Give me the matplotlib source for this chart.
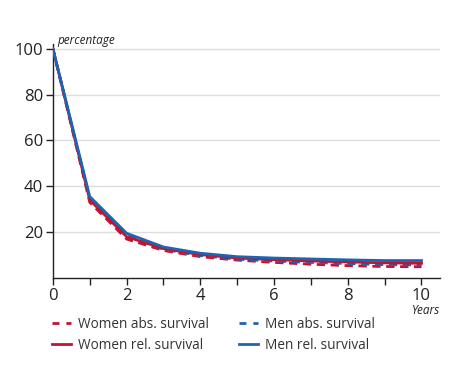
import matplotlib
matplotlib.use("Agg")
import matplotlib.pyplot as plt
from matplotlib.lines import Line2D

years = [0, 1, 2, 3, 4, 5, 6, 7, 8, 9, 10]
women_abs = [100, 33.0, 17.0, 12.0, 9.3, 7.8, 6.8, 6.0, 5.4, 5.0, 4.9]
women_rel = [100, 34.0, 18.0, 12.8, 10.2, 8.7, 8.0, 7.4, 7.0, 6.6, 6.4]
men_abs = [100, 34.5, 18.5, 12.5, 9.8, 8.2, 7.4, 6.8, 6.3, 5.8, 5.7]
men_rel = [100, 35.5, 19.5, 13.5, 10.8, 9.3, 8.7, 8.3, 7.9, 7.6, 7.6]
yticks = [20, 40, 60, 80, 100]
xticklabels = ["0", "2", "4", "6", "8", "10"]

RED = "#c0152f"
BLUE = "#1f64b0"

plt.rcParams['font.family'] = ['Open Sans', 'DejaVu Sans']

fig = plt.figure(figsize=(4.68, 3.67), dpi=100)
ax = fig.add_axes([0.113, 0.2425, 0.827, 0.6375])

for y in yticks:
    ax.axhline(y, color="#dddddd", lw=1.0, zorder=0)

ax.plot(years, women_abs, color=RED, lw=2.0, ls=(0, (3, 2)), zorder=3)
ax.plot(years, men_abs, color=BLUE, lw=2.0, ls=(0, (3, 2)), zorder=3)
ax.plot(years, women_rel, color=RED, lw=2.0, zorder=4)
ax.plot(years, men_rel, color=BLUE, lw=2.0, zorder=5)

ax.set_xlim(0, 10.5)
ax.set_ylim(0, 102)
for s in ["top", "right"]:
    ax.spines[s].set_visible(False)
for s in ["left", "bottom"]:
    ax.spines[s].set_color("#222222")
    ax.spines[s].set_linewidth(1.0)

ax.set_yticks(yticks)
ax.set_yticklabels([str(v) for v in yticks], fontsize=12, color="#222222")
ax.set_xticks(years)
ax.set_xticklabels([str(v) if v % 2 == 0 else "" for v in years], fontsize=12, color="#222222")
ax.tick_params(axis="y", length=5, width=1, color="#222222", pad=2)
ax.tick_params(axis="x", length=5, width=1, color="#222222", pad=2, direction="out")

ax.text(0.12, 100.5, "percentage", fontsize=8.5, style="italic", color="#222222",
        ha="left", va="bottom")
ax.text(10.5, -11.5, "Years", fontsize=8.5, style="italic", color="#222222",
        ha="right", va="top")

handles = [
    Line2D([], [], color=RED, lw=2.0, ls=(0, (2.5, 2.5))),
    Line2D([], [], color=RED, lw=2.0),
    Line2D([], [], color=BLUE, lw=2.0, ls=(0, (2.5, 2.5))),
    Line2D([], [], color=BLUE, lw=2.0),
]
labels = ["Women abs. survival", "Women rel. survival",
          "Men abs. survival", "Men rel. survival"]
fig.legend(handles, labels, loc="upper left", bbox_to_anchor=(0.085, 0.17),
           ncol=2, frameon=False, fontsize=9.8, handlelength=1.4,
           handletextpad=0.5, columnspacing=2.2, labelspacing=0.45,
           labelcolor="#333333")

fig.savefig("out.png", dpi=100, facecolor="white")
